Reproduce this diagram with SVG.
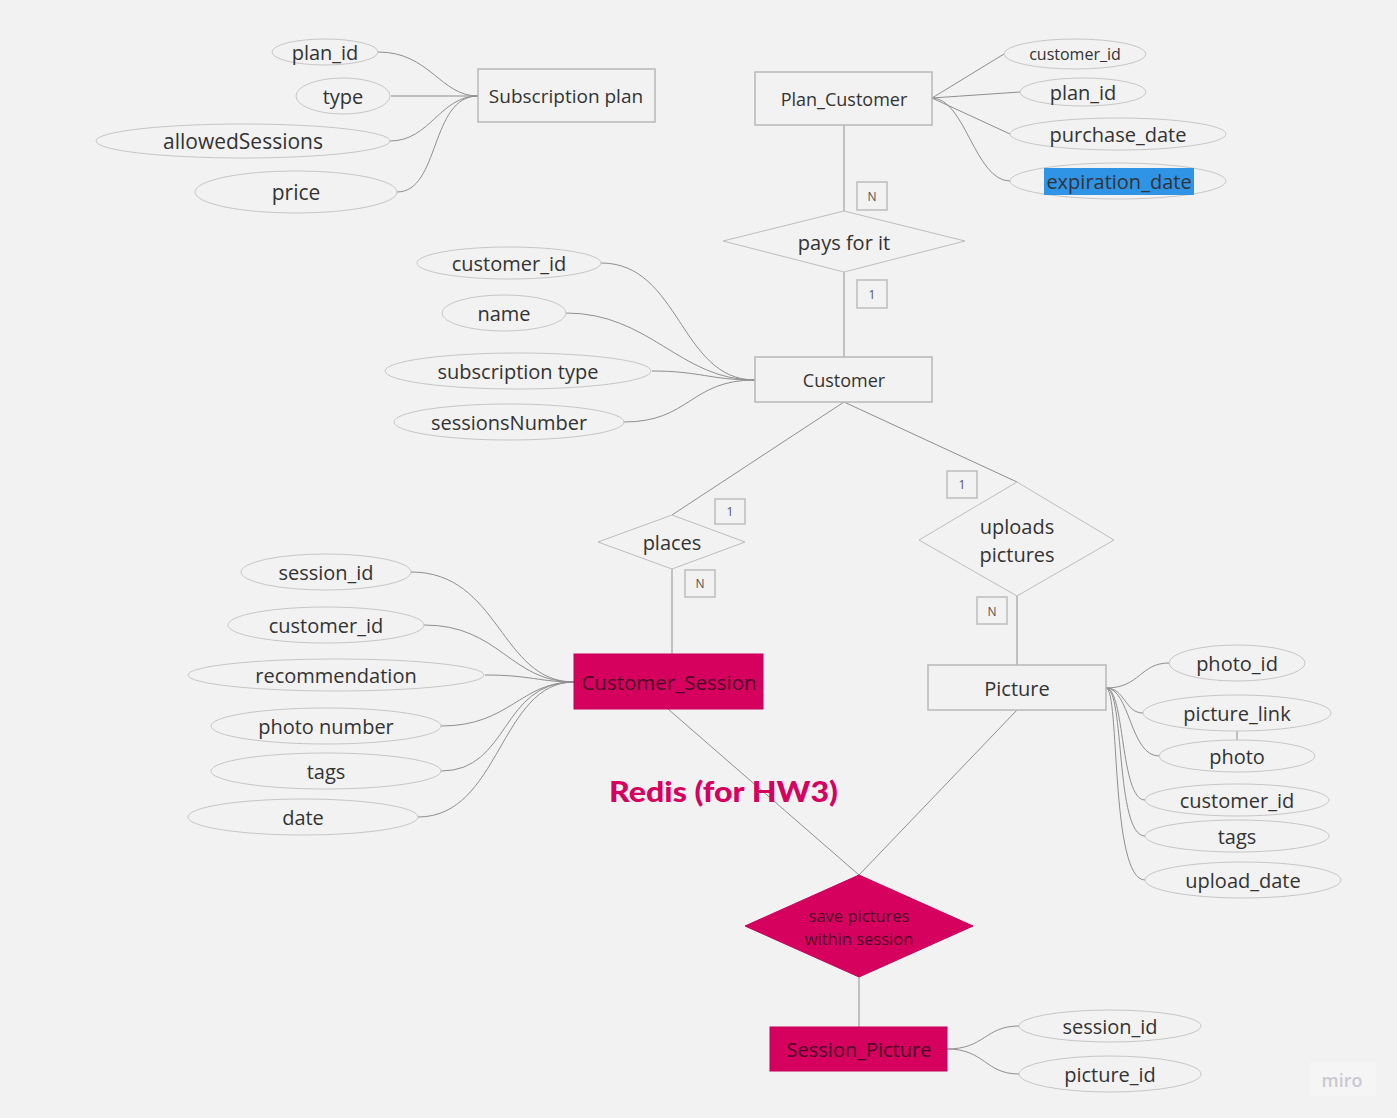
<svg xmlns="http://www.w3.org/2000/svg" width="1397" height="1118" viewBox="0 0 1397 1118">
  <defs>
    <style>
      .bg { fill: #f2f2f2; }
      .ent { fill: #f2f2f2; stroke: #b8b8b8; stroke-width: 1.5; }
      .hot { fill: #d6005f; stroke: #c4005a; stroke-width: 1; }
      .rel { fill: #f2f2f2; stroke: #bdbdbd; stroke-width: 1; }
      .attr { fill: #f2f2f2; stroke: #c6c6c6; stroke-width: 1; }
      .card { fill: #f2f2f2; stroke: #bdbdbd; stroke-width: 1.5; }
      .lbl { font-family: "Open Sans", "Noto Sans", sans-serif; fill: #333333; text-anchor: middle; dominant-baseline: central; }
      .hotlbl { font-family: "Open Sans", "Noto Sans", sans-serif; fill: #4a0524; text-anchor: middle; dominant-baseline: central; }
      .cardlbl { font-family: "Open Sans", "Noto Sans", sans-serif; fill: #555555; font-size: 12px; text-anchor: middle; dominant-baseline: central; }
      .wire { fill: none; stroke: #8f8f8f; stroke-width: 1; }
      .wire2 { fill: none; stroke: #a0a0a0; stroke-width: 1.2; }
    </style>
  </defs>

  <rect class="bg" x="0" y="0" width="1397" height="1118"/>

  <!-- connectors -->
  <g id="connectors">
    <!-- Subscription plan attributes -->
    <path class="wire" d="M378 52 C430 52 440 96 478 96"/>
    <path class="wire" d="M391 96 L478 96"/>
    <path class="wire" d="M390 141 C430 141 440 96 478 96"/>
    <path class="wire" d="M397 192 C440 192 430 96 478 96"/>
    <!-- Plan_Customer attributes -->
    <path class="wire" d="M932 98 L1004 54"/>
    <path class="wire" d="M932 98 L1020 92"/>
    <path class="wire" d="M932 98 L1010 134"/>
    <path class="wire" d="M932 98 C965 98 975 181 1010 181"/>
    <!-- Plan_Customer / pays for it / Customer -->
    <path class="wire2" d="M844 125 L844 211"/>
    <path class="wire2" d="M844 272 L844 357"/>
    <!-- Customer attributes -->
    <path class="wire" d="M601 263 C680 263 680 380 755 380"/>
    <path class="wire" d="M566 313 C650 313 680 380 755 380"/>
    <path class="wire" d="M652 371 C700 371 710 380 755 380"/>
    <path class="wire" d="M624 422 C690 422 690 380 755 380"/>
    <!-- Customer to relationships -->
    <path class="wire" d="M844 402 L672 515"/>
    <path class="wire" d="M844 402 L1017 482"/>
    <path class="wire2" d="M672 569 L672 654"/>
    <path class="wire2" d="M1017 596 L1017 665"/>
    <!-- Customer_Session attributes -->
    <path class="wire" d="M411 572 C500 572 500 682 574 682"/>
    <path class="wire" d="M424 625 C500 625 510 682 574 682"/>
    <path class="wire" d="M485 675 C530 675 540 682 574 682"/>
    <path class="wire" d="M441 726 C510 726 520 682 574 682"/>
    <path class="wire" d="M441 771 C510 771 500 682 574 682"/>
    <path class="wire" d="M418 817 C500 817 500 682 574 682"/>
    <!-- Picture attributes -->
    <path class="wire" d="M1106 688 C1140 688 1140 663 1169 663"/>
    <path class="wire" d="M1106 688 C1125 688 1125 713 1143 713"/>
    <path class="wire" d="M1106 688 C1130 688 1130 756 1159 756"/>
    <path class="wire" d="M1106 688 C1125 688 1120 800 1145 800"/>
    <path class="wire" d="M1106 688 C1125 688 1115 836 1145 836"/>
    <path class="wire" d="M1106 688 C1120 688 1110 880 1145 880"/>
    <path class="wire" d="M1237 731 L1237 740"/>
    <!-- weak relationship -->
    <path class="wire" d="M668 709 L859 875"/>
    <path class="wire" d="M1017 710 L859 875"/>
    <path class="wire2" d="M859 977 L859 1027"/>
    <!-- Session_Picture attributes -->
    <path class="wire" d="M947 1049 C985 1049 985 1026 1019 1026"/>
    <path class="wire" d="M947 1049 C985 1049 985 1074 1019 1074"/>
  </g>

  <!-- Subscription plan -->
  <g id="subscription-plan">
    <rect class="ent" x="478" y="69" width="177" height="53"/>
    <text class="lbl" x="566" y="96" font-size="19">Subscription plan</text>
  </g>
  <g id="sp-plan-id">
    <ellipse class="attr" cx="325" cy="52" rx="53" ry="13"/>
    <text class="lbl" x="325" y="52" font-size="20">plan_id</text>
  </g>
  <g id="sp-type">
    <ellipse class="attr" cx="343" cy="96" rx="47" ry="18"/>
    <text class="lbl" x="343" y="96" font-size="20">type</text>
  </g>
  <g id="sp-allowed">
    <ellipse class="attr" cx="243" cy="141" rx="147" ry="17"/>
    <text class="lbl" x="243" y="141" font-size="21">allowedSessions</text>
  </g>
  <g id="sp-price">
    <ellipse class="attr" cx="296" cy="192" rx="101" ry="21"/>
    <text class="lbl" x="296" y="192" font-size="21">price</text>
  </g>

  <!-- Plan_Customer -->
  <g id="plan-customer">
    <rect class="ent" x="755" y="72" width="177" height="53"/>
    <text class="lbl" x="844" y="99" font-size="18">Plan_Customer</text>
  </g>
  <g id="pc-customer-id">
    <ellipse class="attr" cx="1075" cy="54" rx="71" ry="15"/>
    <text class="lbl" x="1075" y="54" font-size="16">customer_id</text>
  </g>
  <g id="pc-plan-id">
    <ellipse class="attr" cx="1083" cy="92" rx="63" ry="14"/>
    <text class="lbl" x="1083" y="92" font-size="20">plan_id</text>
  </g>
  <g id="pc-purchase">
    <ellipse class="attr" cx="1118" cy="134" rx="108" ry="16"/>
    <text class="lbl" x="1118" y="134" font-size="20">purchase_date</text>
  </g>
  <g id="pc-expiration">
    <ellipse class="attr" cx="1118" cy="181" rx="108" ry="18"/>
    <rect x="1044" y="168" width="150" height="27" fill="#2f93e6"/>
    <text class="lbl" x="1119" y="181" font-size="20" fill="#1a2a3a">expiration_date</text>
  </g>

  <!-- pays for it -->
  <g id="pays-for-it">
    <polygon class="rel" points="844,211 965,241 844,272 723,241"/>
    <text class="lbl" x="844" y="242" font-size="20">pays for it</text>
  </g>
  <g id="card-pays-n">
    <rect class="card" x="857" y="182" width="30" height="28"/>
    <text class="cardlbl" x="872" y="196">N</text>
  </g>
  <g id="card-pays-1">
    <rect class="card" x="857" y="280" width="30" height="28"/>
    <text class="cardlbl" x="872" y="294">1</text>
  </g>

  <!-- Customer -->
  <g id="customer">
    <rect class="ent" x="755" y="357" width="177" height="45"/>
    <text class="lbl" x="844" y="380" font-size="18">Customer</text>
  </g>
  <g id="c-customer-id">
    <ellipse class="attr" cx="509" cy="263" rx="92" ry="16"/>
    <text class="lbl" x="509" y="263" font-size="20">customer_id</text>
  </g>
  <g id="c-name">
    <ellipse class="attr" cx="504" cy="313" rx="62" ry="18"/>
    <text class="lbl" x="504" y="313" font-size="20">name</text>
  </g>
  <g id="c-subscription">
    <ellipse class="attr" cx="518" cy="371" rx="133" ry="18"/>
    <text class="lbl" x="518" y="371" font-size="20">subscription type</text>
  </g>
  <g id="c-sessions">
    <ellipse class="attr" cx="509" cy="422" rx="115" ry="18"/>
    <text class="lbl" x="509" y="422" font-size="20">sessionsNumber</text>
  </g>

  <!-- places -->
  <g id="places">
    <polygon class="rel" points="672,515 745,542 672,569 598,542"/>
    <text class="lbl" x="672" y="542" font-size="20">places</text>
  </g>
  <g id="card-places-1">
    <rect class="card" x="715" y="499" width="30" height="25"/>
    <text class="cardlbl" x="730" y="511">1</text>
  </g>
  <g id="card-places-n">
    <rect class="card" x="685" y="570" width="30" height="27"/>
    <text class="cardlbl" x="700" y="583">N</text>
  </g>

  <!-- uploads pictures -->
  <g id="uploads-pictures">
    <polygon class="rel" points="1017,482 1114,540 1017,596 919,540"/>
    <text class="lbl" x="1017" y="526" font-size="20">uploads</text>
    <text class="lbl" x="1017" y="554" font-size="20">pictures</text>
  </g>
  <g id="card-uploads-1">
    <rect class="card" x="947" y="471" width="30" height="27"/>
    <text class="cardlbl" x="962" y="484">1</text>
  </g>
  <g id="card-uploads-n">
    <rect class="card" x="977" y="597" width="30" height="27"/>
    <text class="cardlbl" x="992" y="611">N</text>
  </g>

  <!-- Customer_Session -->
  <g id="customer-session">
    <rect class="hot" x="574" y="654" width="189" height="55"/>
    <text class="hotlbl" x="669" y="682" font-size="20.5">Customer_Session</text>
  </g>
  <g id="cs-session-id">
    <ellipse class="attr" cx="326" cy="572" rx="85" ry="18"/>
    <text class="lbl" x="326" y="572" font-size="20">session_id</text>
  </g>
  <g id="cs-customer-id">
    <ellipse class="attr" cx="326" cy="625" rx="98" ry="18"/>
    <text class="lbl" x="326" y="625" font-size="20">customer_id</text>
  </g>
  <g id="cs-recommendation">
    <ellipse class="attr" cx="336" cy="675" rx="148" ry="16"/>
    <text class="lbl" x="336" y="675" font-size="20">recommendation</text>
  </g>
  <g id="cs-photo-number">
    <ellipse class="attr" cx="326" cy="726" rx="115" ry="18"/>
    <text class="lbl" x="326" y="726" font-size="20">photo number</text>
  </g>
  <g id="cs-tags">
    <ellipse class="attr" cx="326" cy="771" rx="115" ry="18"/>
    <text class="lbl" x="326" y="771" font-size="20">tags</text>
  </g>
  <g id="cs-date">
    <ellipse class="attr" cx="303" cy="817" rx="115" ry="18"/>
    <text class="lbl" x="303" y="817" font-size="20">date</text>
  </g>

  <!-- Picture -->
  <g id="picture">
    <rect class="ent" x="928" y="665" width="178" height="45"/>
    <text class="lbl" x="1017" y="688" font-size="20">Picture</text>
  </g>
  <g id="p-photo-id">
    <ellipse class="attr" cx="1237" cy="663" rx="68" ry="18"/>
    <text class="lbl" x="1237" y="663" font-size="20">photo_id</text>
  </g>
  <g id="p-picture-link">
    <ellipse class="attr" cx="1237" cy="713" rx="94" ry="18"/>
    <text class="lbl" x="1237" y="713" font-size="20">picture_link</text>
  </g>
  <g id="p-photo">
    <ellipse class="attr" cx="1237" cy="756" rx="78" ry="16"/>
    <text class="lbl" x="1237" y="756" font-size="20">photo</text>
  </g>
  <g id="p-customer-id">
    <ellipse class="attr" cx="1237" cy="800" rx="92" ry="16"/>
    <text class="lbl" x="1237" y="800" font-size="20">customer_id</text>
  </g>
  <g id="p-tags">
    <ellipse class="attr" cx="1237" cy="836" rx="92" ry="16"/>
    <text class="lbl" x="1237" y="836" font-size="20">tags</text>
  </g>
  <g id="p-upload-date">
    <ellipse class="attr" cx="1243" cy="880" rx="98" ry="18"/>
    <text class="lbl" x="1243" y="880" font-size="20">upload_date</text>
  </g>

  <!-- Redis note -->
  <g id="redis-note">
    <text x="609" y="802" font-family="Lato, 'Open Sans', sans-serif" font-weight="900" font-size="28" fill="#d6005f" textLength="229" lengthAdjust="spacingAndGlyphs">Redis (for HW3)</text>
  </g>

  <!-- save pictures within session -->
  <g id="save-pictures">
    <polygon class="hot" points="859,875 973,926 859,977 745,926"/>
    <text class="hotlbl" x="859" y="915" font-size="16.5" fill="#6a0a36">save pictures</text>
    <text class="hotlbl" x="859" y="938" font-size="16.5" fill="#6a0a36">within session</text>
  </g>

  <!-- Session_Picture -->
  <g id="session-picture">
    <rect class="hot" x="770" y="1027" width="177" height="44"/>
    <text class="hotlbl" x="859" y="1049" font-size="20">Session_Picture</text>
  </g>
  <g id="spic-session-id">
    <ellipse class="attr" cx="1110" cy="1026" rx="91" ry="16"/>
    <text class="lbl" x="1110" y="1026" font-size="20">session_id</text>
  </g>
  <g id="spic-picture-id">
    <ellipse class="attr" cx="1110" cy="1074" rx="91" ry="18"/>
    <text class="lbl" x="1110" y="1074" font-size="20">picture_id</text>
  </g>

  <!-- watermark -->
  <g id="miro-badge">
    <rect x="1310" y="1062" width="66" height="34" fill="#f5f5f5"/>
    <text x="1342" y="1080" font-family="'Open Sans', sans-serif" font-weight="600" font-size="18" fill="#c9c9d2" text-anchor="middle" dominant-baseline="central">miro</text>
  </g>
</svg>
